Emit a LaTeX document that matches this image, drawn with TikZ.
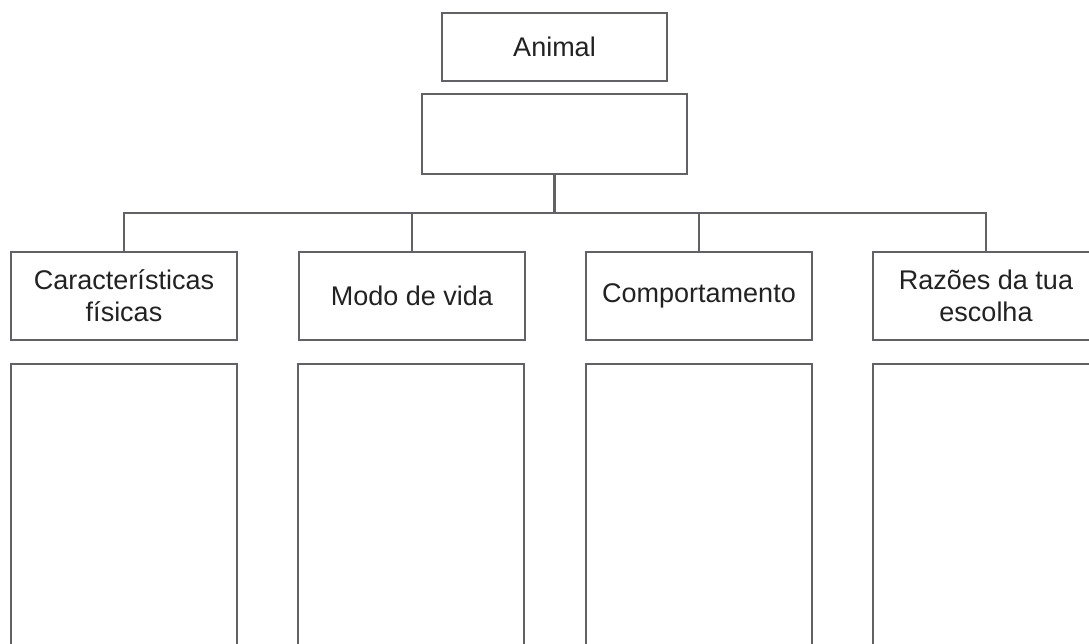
\documentclass[tikz,border=0pt]{standalone}
\usepackage{fontspec}
\setmainfont{Liberation Sans}
\definecolor{boxline}{HTML}{626266}
\definecolor{txt}{HTML}{222222}
\begin{document}
\begin{tikzpicture}[x=1pt,y=-1pt,
  box/.style={draw=boxline,line width=2.2pt,rectangle,inner sep=0pt,text=txt,
    font=\fontsize{27}{32}\selectfont,align=center},
  cat/.style={box,minimum width=226pt,minimum height=88pt},
  blank/.style={box,minimum width=226pt,minimum height=340pt},
  link/.style={draw=boxline,line width=2.2pt}]
\useasboundingbox (0,0) rectangle (1089,644);
\clip (0,0) rectangle (1089,644);
\fill[white] (0,0) rectangle (1089,644);
\node[box,minimum width=225pt,minimum height=68pt] (animal) at (554.5,47) {Animal};
\node[box,minimum width=265pt,minimum height=80pt] (big) at (554.5,134) {};
\coordinate (hub) at (554.5,213);
\node[cat] (c1) at (124,296) {Características\\físicas};
\node[cat] (c2) at (412,296) {Modo de vida};
\node[cat] (c3) at (699,296) {Comportamento};
\node[cat] (c4) at (986,296) {Razões da tua\\escolha};
\node[blank,anchor=north] (b1) at (124,363) {};
\node[blank,anchor=north] (b2) at (411,363) {};
\node[blank,anchor=north] (b3) at (699,363) {};
\node[blank,anchor=north] (b4) at (986,363) {};
\draw[link] (big.south) -- (hub);
\draw[link] (c1.north) |- (hub);
\draw[link] (c4.north) |- (hub);
\draw[link] (c2.north) -- (c2.north |- hub);
\draw[link] (c3.north) -- (c3.north |- hub);
\end{tikzpicture}
\end{document}
